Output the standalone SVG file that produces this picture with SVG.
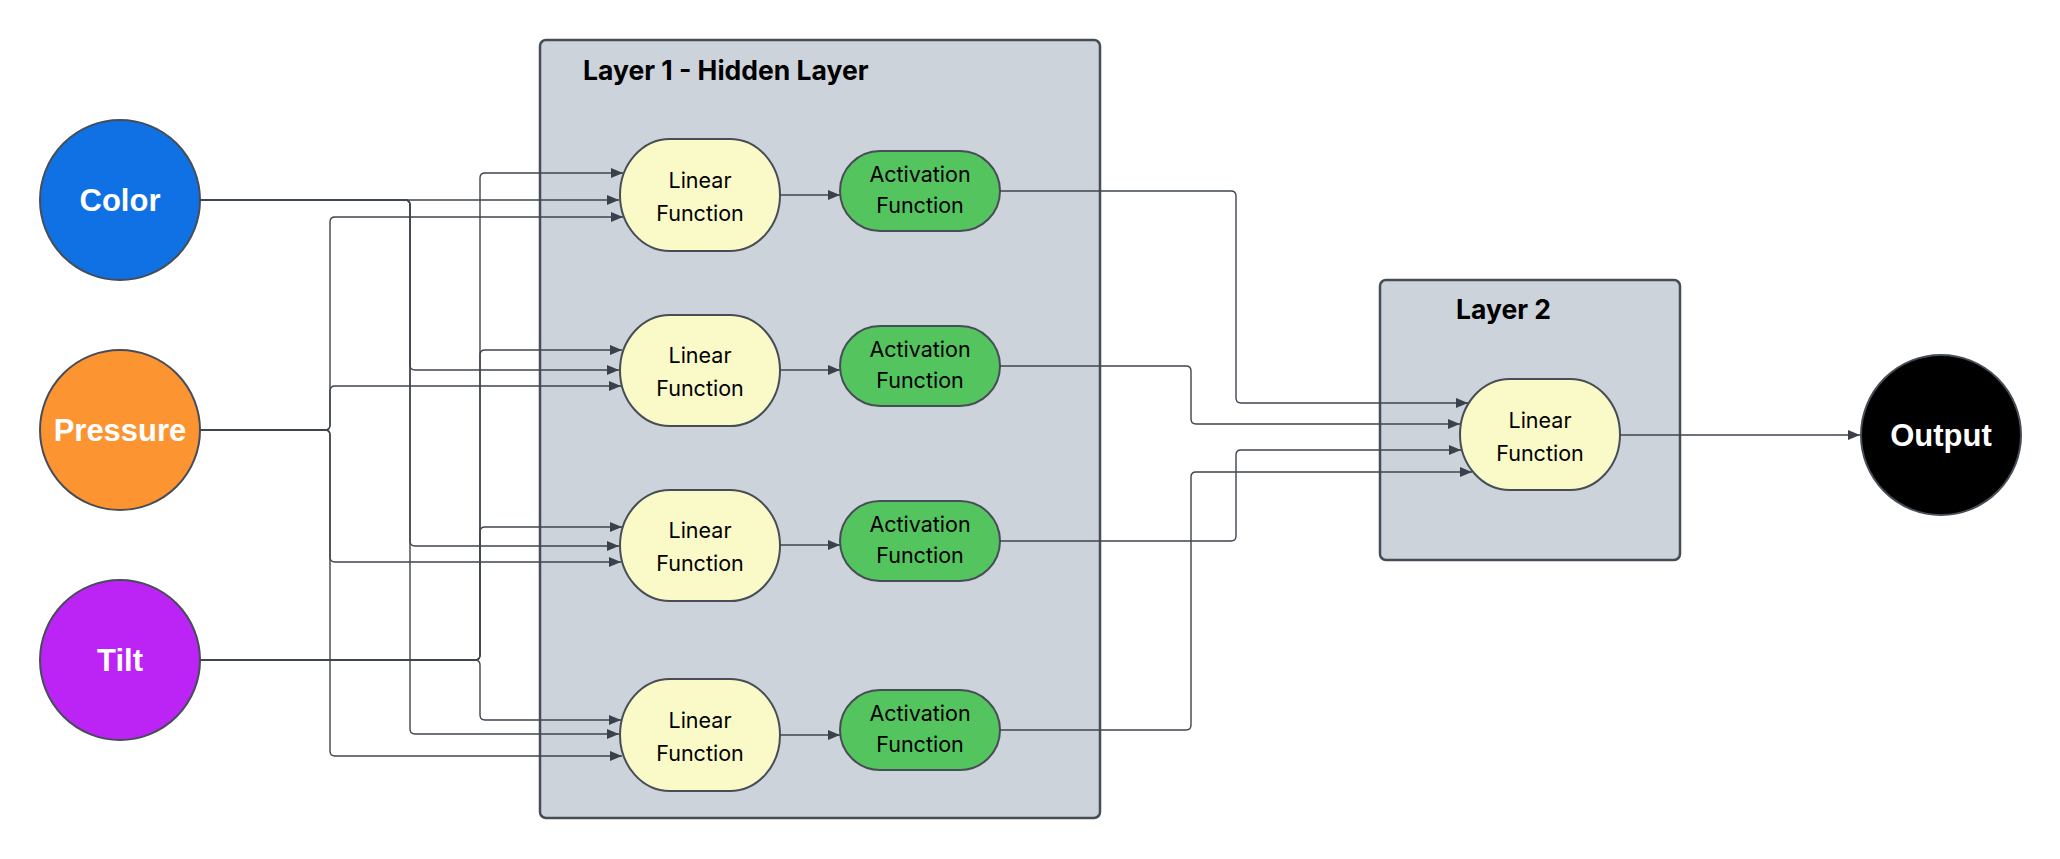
<svg xmlns="http://www.w3.org/2000/svg" width="2060" height="859" viewBox="0 0 2060 859">
<style>
.bg{fill:#ffffff}
.layer{fill:#cdd3db;stroke:#474d56;stroke-width:2.5}
.title{font-family:Inter,"Liberation Sans",sans-serif;font-weight:700;font-size:26.5px;fill:#000}
.inp{stroke:#474d56;stroke-width:2}
.lin{fill:#fafac8;stroke:#474d56;stroke-width:2}
.act{fill:#54c45e;stroke:#474d56;stroke-width:2}
.big{font-family:"Liberation Sans",Arial,sans-serif;font-weight:700;font-size:31px;fill:#fff;text-anchor:middle}
.small{font-family:Inter,"Liberation Sans",sans-serif;font-size:21.5px;fill:#000;text-anchor:middle}
.conn path{fill:none;stroke:#3f454e;stroke-width:1.4;marker-end:url(#arr)}
</style>
<defs>
<marker id="arr" markerUnits="userSpaceOnUse" markerWidth="12" markerHeight="10" refX="12" refY="5" orient="auto">
<path d="M0,0 L12,5 L0,10 z" fill="#3a414a"/>
</marker>
</defs>
<rect class="bg" x="0" y="0" width="2060" height="859"/>

<g id="layer1">
<rect class="layer" x="540" y="40" width="560" height="778" rx="6"/>
<text class="title" x="583" y="80">Layer 1 - Hidden Layer</text>
</g>
<g id="layer2">
<rect class="layer" x="1380" y="280" width="300" height="280" rx="6"/>
<text class="title" x="1456" y="319">Layer 2</text>
</g>

<g id="color"><circle class="inp" cx="120" cy="200" r="80" fill="#1071e5"/><text class="big" x="120" y="211">Color</text></g>
<g id="pressure"><circle class="inp" cx="120" cy="430" r="80" fill="#fc9432"/><text class="big" x="120" y="441">Pressure</text></g>
<g id="tilt"><circle class="inp" cx="120" cy="660" r="80" fill="#bb24f5"/><text class="big" x="120" y="671">Tilt</text></g>

<g id="lin1"><rect class="lin" x="620" y="139" width="160" height="112" rx="50" ry="56"/><text class="small" x="700" y="188">Linear</text><text class="small" x="700" y="221">Function</text></g>
<g id="lin2"><rect class="lin" x="620" y="315" width="160" height="111" rx="50" ry="55.5"/><text class="small" x="700" y="363">Linear</text><text class="small" x="700" y="396">Function</text></g>
<g id="lin3"><rect class="lin" x="620" y="490" width="160" height="111" rx="50" ry="55.5"/><text class="small" x="700" y="538">Linear</text><text class="small" x="700" y="571">Function</text></g>
<g id="lin4"><rect class="lin" x="620" y="679" width="160" height="112" rx="50" ry="56"/><text class="small" x="700" y="728">Linear</text><text class="small" x="700" y="761">Function</text></g>

<g id="act1"><rect class="act" x="840" y="151" width="160" height="80" rx="40"/><text class="small" x="920" y="182">Activation</text><text class="small" x="920" y="213">Function</text></g>
<g id="act2"><rect class="act" x="840" y="326" width="160" height="80" rx="40"/><text class="small" x="920" y="357">Activation</text><text class="small" x="920" y="388">Function</text></g>
<g id="act3"><rect class="act" x="840" y="501" width="160" height="80" rx="40"/><text class="small" x="920" y="532">Activation</text><text class="small" x="920" y="563">Function</text></g>
<g id="act4"><rect class="act" x="840" y="690" width="160" height="80" rx="40"/><text class="small" x="920" y="721">Activation</text><text class="small" x="920" y="752">Function</text></g>

<g id="lin5"><rect class="lin" x="1460" y="379" width="160" height="111" rx="50" ry="55.5"/><text class="small" x="1540" y="428">Linear</text><text class="small" x="1540" y="461">Function</text></g>

<g id="output"><circle class="inp" cx="1941" cy="435" r="80" fill="#000000"/><text class="big" x="1941" y="446">Output</text></g>

<g id="connectors" class="conn">
<path d="M200,200 H619"/>
<path d="M200,200 H405 Q410,200 410,205 V365 Q410,370 415,370 H619"/>
<path d="M200,200 H405 Q410,200 410,205 V541 Q410,546 415,546 H619"/>
<path d="M200,200 H405 Q410,200 410,205 V729 Q410,734 415,734 H619"/>
<path d="M200,430 H325 Q330,430 330,425 V222 Q330,217 335,217 H623"/>
<path d="M200,430 H325 Q330,430 330,425 V391 Q330,386 335,386 H621"/>
<path d="M200,430 H325 Q330,430 330,435 V557 Q330,562 335,562 H621"/>
<path d="M200,430 H325 Q330,430 330,435 V751 Q330,756 335,756 H622"/>
<path d="M200,660 H475 Q480,660 480,655 V178 Q480,173 485,173 H623"/>
<path d="M200,660 H475 Q480,660 480,655 V355 Q480,350 485,350 H622"/>
<path d="M200,660 H475 Q480,660 480,655 V532 Q480,527 485,527 H622"/>
<path d="M200,660 H475 Q480,660 480,665 V715 Q480,720 485,720 H621"/>
<path d="M780,195 H840"/>
<path d="M780,370 H840"/>
<path d="M780,545 H840"/>
<path d="M780,735 H840"/>
<path d="M1000,191 H1231 Q1236,191 1236,196 V398 Q1236,403 1241,403 H1468"/>
<path d="M1000,366 H1186 Q1191,366 1191,371 V419 Q1191,424 1196,424 H1460"/>
<path d="M1000,541 H1231 Q1236,541 1236,536 V455 Q1236,450 1241,450 H1461"/>
<path d="M1000,730 H1186 Q1191,730 1191,725 V477 Q1191,472 1196,472 H1472"/>
<path d="M1620,435 H1860"/>
</g>
</svg>
